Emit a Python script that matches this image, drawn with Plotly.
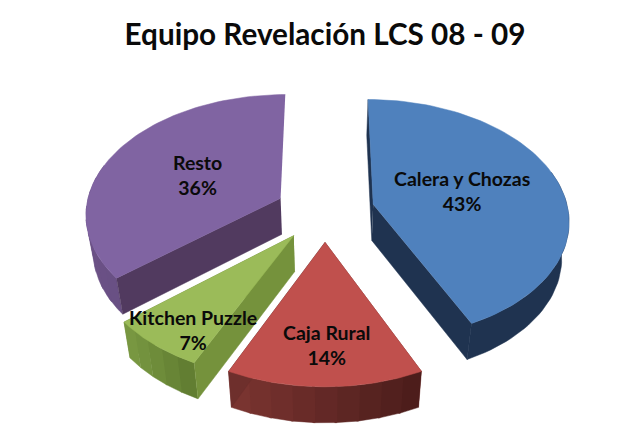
import numpy as np
import plotly.graph_objects as go

# Datos
labels = ["Calera y Chozas", "Caja Rural", "Kitchen Puzzle", "Resto"]
values = [43, 14, 7, 36]

top_colors = ["#4F81BD", "#C0504D", "#9BBB59", "#8064A2"]
radial_colors = ["#1F3350", "#6E2F2C", "#75923C", "#513A5F"]
# color de la pared curva, de izquierda a derecha
arc_colors = [("#1F3350", "#1F3350"), ("#7C3531", "#4A1C1A"), ("#7A9A42", "#5E7A30"), ("#6B5186", "#5C4575")]
arc_bands = [1, 9, 5, 8]
label_pos = [(462, 191), (326, 345), (193, 330), (197, 175)]

# Geometría de la tarta en perspectiva (en píxeles)
CX, CY = 325, 211
RX, RY = 195, 119
PERSP = 0.12
EXPLODE = 0.255
DEPTH = 36
BASE_SCALE = 0.97


def project(x, y):
    w = 1 + PERSP * y
    return CX + RX * x / w, CY - RY * y / w


def lower(px, py):
    return CX + (px - CX) * BASE_SCALE, py + DEPTH


def mix(c1, c2, t):
    a = [int(c1[i:i + 2], 16) for i in (1, 3, 5)]
    b = [int(c2[i:i + 2], 16) for i in (1, 3, 5)]
    return "rgb(%d,%d,%d)" % tuple(round(p + (q - p) * t) for p, q in zip(a, b))


def poly(xs, ys, color):
    return go.Scatter(x=list(xs), y=list(ys), mode="lines", fill="toself", fillcolor=color,
                      line=dict(color=color, width=0.5), hoverinfo="skip", showlegend=False)


fig = go.Figure()
total = sum(values)
start = 0.0
slices = []
for i, v in enumerate(values):
    sweep = 2 * np.pi * v / total
    slices.append((i, start, start + sweep))
    start += sweep

# de atrás hacia delante
for i, a0, a1 in [slices[3], slices[0], slices[2], slices[1]]:
    mid = (a0 + a1) / 2
    ox, oy = EXPLODE * np.sin(mid), EXPLODE * np.cos(mid)
    ang = np.linspace(a0, a1, 81)
    ax, ay = project(ox + np.sin(ang), oy + np.cos(ang))
    apx, apy = project(ox, oy)
    bx, by = lower(ax, ay)

    faces = []
    for k in (0, -1):
        x1, y1 = lower(apx, apy)
        x2, y2 = lower(ax[k], ay[k])
        faces.append(((apy + ay[k]) / 2, [apx, ax[k], x2, x1], [apy, ay[k], y2, y1], radial_colors[i]))
    faces.sort(key=lambda f: f[0])
    # la cara trasera de Resto no se ve en el original
    if labels[i] != "Resto":
        fig.add_trace(poly(faces[0][1], faces[0][2], faces[0][3]))

    # pared curva por bandas, solapadas para que no se vean las juntas; solo la parte que mira al frente
    front = np.where(np.cos(ang) < 0.3)[0]
    xmin, xmax = ax.min(), ax.max()
    edges = np.linspace(front[0], front[-1], arc_bands[i] + 1).astype(int)
    for k0, k1 in zip(edges[:-1], edges[1:]):
        k1 = min(k1 + 1, front[-1])
        t = ((ax[k0] + ax[k1]) / 2 - xmin) / (xmax - xmin)
        xs = np.concatenate([ax[k0:k1 + 1], bx[k0:k1 + 1][::-1]])
        ys = np.concatenate([ay[k0:k1 + 1], by[k0:k1 + 1][::-1]])
        fig.add_trace(poly(xs, ys, mix(arc_colors[i][0], arc_colors[i][1], t)))

    fig.add_trace(poly(faces[1][1], faces[1][2], faces[1][3]))
    fig.add_trace(poly([apx, *ax], [apy, *ay], top_colors[i]))

for name, v, (lx, ly) in zip(labels, values, label_pos):
    fig.add_annotation(x=lx, y=ly, text=f"{name}<br>{v}%", showarrow=False,
                       font=dict(family="Lato", size=19.5, color="#0A0A0A", weight="bold"))

fig.update_layout(
    title=dict(text="Equipo Revelación LCS 08 - 09", x=0.525, xanchor="center", y=0.922, yanchor="middle",
               font=dict(family="Lato", size=29.7, color="#0A0A0A", weight="bold")),
    width=619, height=439, margin=dict(l=0, r=0, t=0, b=0),
    paper_bgcolor="white", plot_bgcolor="white", showlegend=False,
    xaxis=dict(range=[0, 619], visible=False),
    yaxis=dict(range=[439, 0], visible=False),
)

fig.write_html("out.html", config={"displayModeBar": False}, post_script="document.body.style.margin='0';")
